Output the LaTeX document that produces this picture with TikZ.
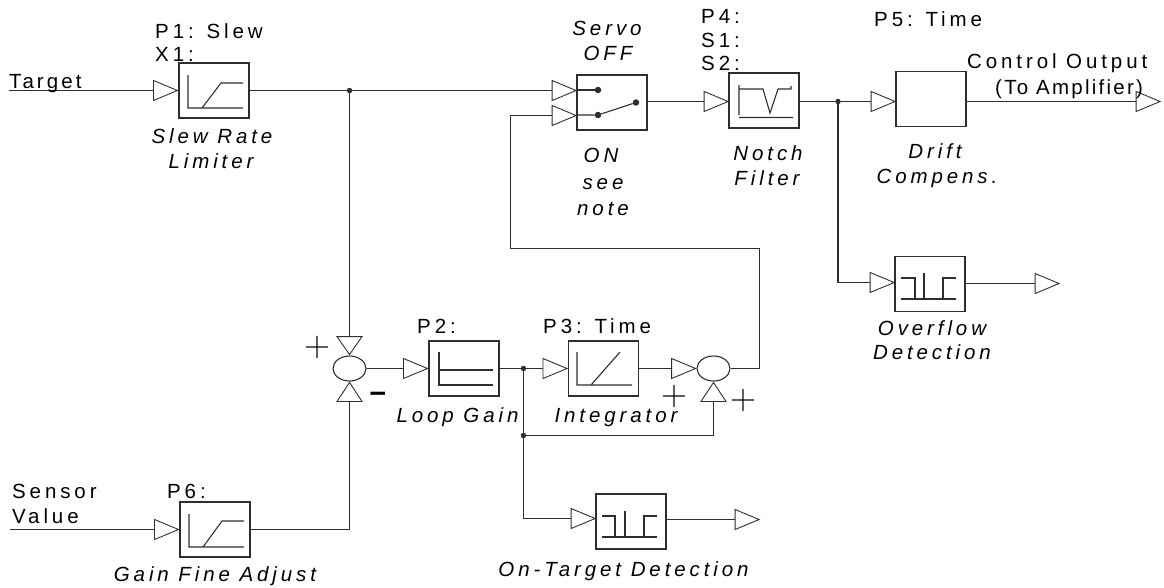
\documentclass[tikz,border=0pt]{standalone}
\usepackage{fontspec}
\setmainfont[LetterSpace=19]{Liberation Sans}
\newfontfamily\plainfont{Liberation Sans}
\newfontfamily\tightfont[LetterSpace=11]{Liberation Sans}
\newfontfamily\midfont[LetterSpace=15]{Liberation Sans}
\usetikzlibrary{shapes.geometric}
\definecolor{ink}{HTML}{2E2E2E}
\tikzset{
  wire/.style={draw=ink,line width=1.1pt},
  icon/.style={draw=ink,line width=1.1pt},
  blockbox/.style={draw=ink,line width=1.2pt,minimum width=70pt,minimum height=55pt,inner sep=0pt},
  tri/.style={draw=ink,line width=0.9pt,isosceles triangle,isosceles triangle stretches,isosceles triangle apex angle=60,minimum width=20pt,minimum height=24pt,inner sep=0pt,anchor=apex},
  triup/.style={tri,shape border rotate=90,minimum width=25pt,minimum height=19pt},
  tridown/.style={tri,shape border rotate=-90,minimum width=25pt,minimum height=18pt},
  summer/.style={draw=ink,line width=1.1pt,ellipse,minimum width=33pt,minimum height=25pt,inner sep=0pt},
  junction/.style={circle,fill=ink,minimum size=5.5pt,inner sep=0pt},
  contact/.style={circle,fill=ink,minimum size=6.5pt,inner sep=0pt},
  lbl/.style={anchor=base west,inner sep=0pt,text=black,font=\fontsize{20.5}{22}\selectfont},
  ilbl/.style={anchor=base,inner sep=0pt,text=black,font=\fontsize{20.5}{22}\selectfont\itshape},
  sign/.style={inner sep=0pt,text=black,font=\fontsize{33}{33}\selectfont},
}
\newcommand{\bigplus}{\scalebox{1.45}{$+$}}
\begin{document}
\begin{tikzpicture}[x=1pt,y=-1pt]
\useasboundingbox (0,0) rectangle (1164,587);
% blocks
\node[blockbox] (slew) at (214,90.5) {};
\node[blockbox] (gainadj) at (215,529.5) {};
\node[blockbox] (servo) at (612,102.5) {};
\node[blockbox] (notch) at (764,100.5) {};
\node[blockbox] (drift) at (931,99) {};
\node[blockbox] (overflow) at (930,284) {};
\node[blockbox] (loop) at (464,368.5) {};
\node[blockbox] (integ) at (603.5,368.5) {};
\node[blockbox] (ontarget) at (631,521.5) {};
% summers
\node[summer] (sumA) at (349.5,368.5) {};
\node[summer] (sumB) at (713.5,368.5) {};
% triangles
\node[tri] (tSlew) at (slew.west) {};
\node[tri] (tGain) at (gainadj.west) {};
\node[tri] (tServoA) at (577,90.5) {};
\node[tri] (tServoB) at (577,115.5) {};
\node[tri] (tNotch) at (729,101.5) {};
\node[tri] (tDrift) at (896,101.5) {};
\node[tri] (tOut) at (1161,101.5) {};
\node[tri] (tOver) at (895,282.5) {};
\node[tri] (tOverOut) at (1060,283.5) {};
\node[tri] (tLoop) at (loop.west) {};
\node[tri] (tInteg) at (integ.west) {};
\node[tri] (tSumB) at (sumB.west) {};
\node[tri] (tOnT) at (596,518.5) {};
\node[tri] (tOnTOut) at (760,519.5) {};
\node[tridown] (tSumAtop) at (sumA.north) {};
\node[triup] (tSumAbot) at (sumA.south) {};
\node[triup] (tSumBbot) at (sumB.south) {};
% junctions
\node[junction] (jA) at (349.5,90.5) {};
\node[junction] (jB) at (838,101.5) {};
\node[junction] (jC) at (523.5,368.5) {};
\node[junction] (jD) at (523.5,435.5) {};
% free ends
\coordinate (targetIn) at (9,90.5);
\coordinate (sensorIn) at (10,529.5);
\coordinate (fbTop) at (510.5,248.5);
\coordinate (fbBot) at (759.5,248.5);
% connectors
\draw[wire] (targetIn) -- (tSlew.lower side);
\draw[wire] (slew.east) -- (jA) -- (tServoA.lower side);
\draw[wire] (jA) -- (tSumAtop.lower side);
\draw[wire] (sensorIn) -- (tGain.lower side);
\draw[wire] (gainadj.east) -| (tSumAbot.lower side);
\draw[wire] (sumA.east) -- (tLoop.lower side);
\draw[wire] (loop.east) -- (jC) -- (tInteg.lower side);
\draw[wire] (integ.east) -- (tSumB.lower side);
\draw[wire] (sumB.east) -| (fbBot) -- (fbTop) |- (tServoB.lower side);
\draw[wire] (jC) -- (jD);
\draw[wire] (jD) -| (tSumBbot.lower side);
\draw[wire] (jD) |- (tOnT.lower side);
\draw[wire] (ontarget.east |- tOnTOut) -- (tOnTOut.lower side);
\draw[wire] (servo.east |- tNotch) -- (tNotch.lower side);
\draw[wire] (notch.east |- jB) -- (jB) -- (tDrift.lower side);
\draw[wire] (drift.east |- tOut) -- (tOut.lower side);
\draw[wire] (jB) |- (tOver.lower side);
\draw[wire] (overflow.east |- tOverOut) -- (tOverOut.lower side);
% switch
\node[contact] (swA) at (598,90) {};
\node[contact] (swB) at (598,115) {};
\node[contact] (swC) at (636,102.5) {};
\draw[wire] (servo.west |- swA) -- (swA);
\draw[wire] (servo.west |- swB) -- (swB) -- (swC);
% icons
\draw[icon] (188,75) -- (188,108) -- (243,108) (202,108) -- (221,83) -- (243,83);
\draw[icon] (189,514) -- (189,547) -- (244,547) (203,547) -- (222,521) -- (244,521);
\draw[icon] (739,85) -- (739,115) (739,117.5) -- (793,117.5) (739,89) -- (763,89) -- (770,113) -- (778,89) -- (791,89) -- (791,86);
\draw[icon] (439,352) -- (439,385) -- (493,385) (439,370) -- (493,370);
\draw[icon] (577,352) -- (577,385) -- (632,385) (591,385) -- (620,352);
\draw[icon] (901,278) -- (915,278) -- (915,299) (924,273) -- (924,299) (943,299) -- (943,278) -- (956,278) (901,299) -- (956,299);
\draw[icon] (602,516) -- (615,516) -- (615,537) (625,511) -- (625,537) (644,537) -- (644,516) -- (657,516) (602,537) -- (657,537);
% labels
\node[lbl] (tTarget) at (9,88) {\midfont Target};
\node[lbl] (tP1) at (155,38) {P1: Slew};
\node[lbl] (tX1) at (155,61) {X1:};
\node[ilbl] (tSlewA) at (212,143) {Slew Rate};
\node[ilbl] (tSlewB) at (211,168) {Limiter};
\node[ilbl] (tServo) at (607,35) {Servo};
\node[ilbl] (tOFF) at (608,60) {OFF};
\node[ilbl] (tON) at (601,162) {ON};
\node[ilbl] (tsee) at (603,189) {see};
\node[ilbl] (tnote) at (603,215) {note};
\node[lbl] (tP4) at (701,23) {P4:};
\node[lbl] (tS1) at (701,47) {S1:};
\node[lbl] (tS2) at (701,70) {S2:};
\node[ilbl] (tNotchA) at (768,160) {Notch};
\node[ilbl] (tNotchB) at (767,185) {Filter};
\node[lbl] (tP5) at (874,26) {P5: Time};
\node[lbl] (tCO) at (967,68) {Control Output};
\node[lbl] (tTA) at (995,94) {\tightfont (To Amplifier)};
\node[ilbl] (tDriftA) at (935,158) {Drift};
\node[ilbl] (tDriftB) at (937,183) {Compens.};
\node[ilbl] (tOverA) at (932,335) {Overflow};
\node[ilbl] (tOverB) at (932,359) {Detection};
\node[lbl] (tP2) at (417,333) {P2:};
\node[lbl] (tP3) at (543,333) {P3: Time};
\node[ilbl] (tLoopG) at (457.5,422) {Loop Gain};
\node[ilbl] (tIntegL) at (616,422) {Integrator};
\node[lbl] (tSensor) at (12,498) {Sensor};
\node[lbl] (tValue) at (12,523) {Value};
\node[lbl] (tP6) at (167,498) {P6:};
\node[ilbl] (tGFA) at (215,581) {Gain Fine Adjust};
\node[ilbl] (tOTD) at (623.5,576) {On-Target Detection};
\node[sign] (sA) at (317,347) {\bigplus};
\node[inner sep=0pt,text=black,font=\plainfont\bfseries\fontsize{26}{26}\selectfont] (sB) at (378,396) {\scalebox{2.2}[1]{-}};
\node[sign] (sC) at (674,396) {\bigplus};
\node[sign] (sD) at (743,400) {\bigplus};
\end{tikzpicture}
\end{document}
